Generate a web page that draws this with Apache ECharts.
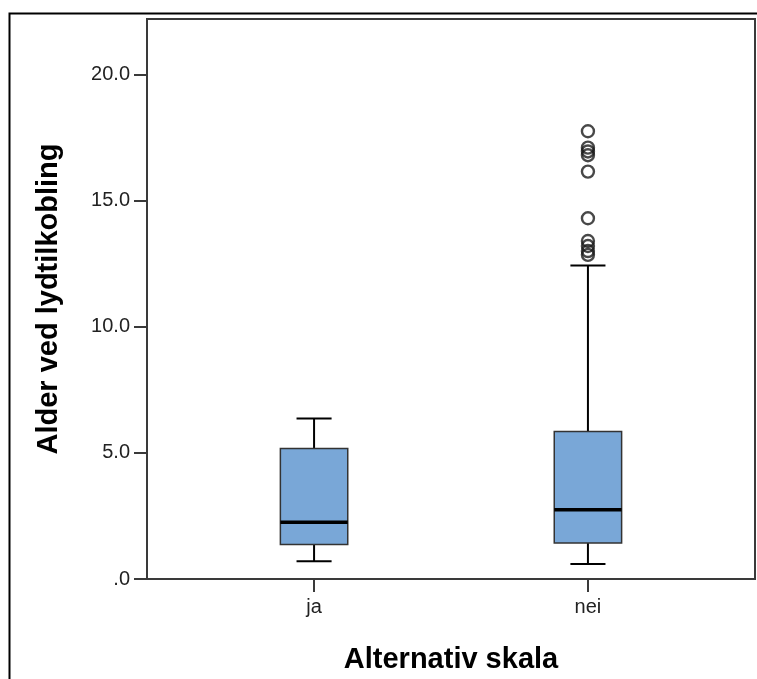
<!DOCTYPE html>
<html>
<head>
<meta charset="utf-8">
<script src="https://cdn.jsdelivr.net/npm/echarts@6/dist/echarts.min.js"></script>
<style>
  html, body { margin: 0; padding: 0; background: #fff; }
  #chart { width: 757px; height: 679px; }
</style>
</head>
<body>
<div id="chart"></div>
<script>
// grupper (x-akse)
const groups = ['ja', 'nei'];
// boksplott-statistikk per gruppe
const boxMin = [0.70, 0.59];
const boxQ1 = [1.37, 1.43];
const boxMedian = [2.25, 2.75];
const boxQ3 = [5.17, 5.85];
const boxMax = [6.36, 12.43];
// uteliggere for "nei"
const outliersNei = [17.75, 17.1, 16.95, 16.8, 16.15, 14.3, 13.4, 13.2, 13.0, 12.85];
// y-akse merker
const yTicks = [0, 5, 10, 15, 20];

const boxData = groups.map((g, i) => [i, boxMin[i], boxQ1[i], boxMedian[i], boxQ3[i], boxMax[i]]);
const outlierData = outliersNei.map(v => [1, v]);

const font = "'Liberation Sans', Arial, sans-serif";

// tegner boks, whiskers og median med aksenes egne skalaer
function renderBox(params, api) {
  const x = api.value(0);
  const lo = api.value(1), q1 = api.value(2), med = api.value(3), q3 = api.value(4), hi = api.value(5);
  const halfBox = 0.123, halfCap = 0.064;
  const tl = api.coord([x - halfBox, q3]);
  const br = api.coord([x + halfBox, q1]);
  const line = (a, b, w) => ({
    type: 'line',
    shape: { x1: a[0], y1: a[1], x2: b[0], y2: b[1] },
    style: { stroke: '#000', lineWidth: w }
  });
  return {
    type: 'group',
    children: [
      line(api.coord([x, q3]), api.coord([x, hi]), 2),
      line(api.coord([x, q1]), api.coord([x, lo]), 2),
      line(api.coord([x - halfCap, hi]), api.coord([x + halfCap, hi]), 2),
      line(api.coord([x - halfCap, lo]), api.coord([x + halfCap, lo]), 2),
      {
        type: 'rect',
        shape: { x: tl[0], y: tl[1], width: br[0] - tl[0], height: br[1] - tl[1] },
        style: { fill: '#79a7d7', stroke: '#333', lineWidth: 1.5 }
      },
      line(api.coord([x - halfBox, med]), api.coord([x + halfBox, med]), 3.5)
    ]
  };
}

const chart = echarts.init(document.getElementById('chart'));
chart.setOption({
  backgroundColor: '#fff',
  animation: false,
  graphic: [{
    type: 'rect',
    left: 7, top: 11,
    shape: { width: 800, height: 700 },
    style: { fill: 'none', stroke: '#000', lineWidth: 2 }
  }],
  grid: {
    left: 147, top: 19, right: 2, bottom: 100,
    outerBoundsMode: 'none',
    show: true, borderColor: '#3a3a3a', borderWidth: 2
  },
  xAxis: {
    type: 'value',
    min: -0.61, max: 1.61,
    name: 'Alternativ skala',
    nameLocation: 'middle',
    nameGap: 66,
    nameTextStyle: { fontFamily: font, fontWeight: 'bold', fontSize: 29, color: '#000' },
    splitLine: { show: false },
    axisLine: { onZero: false, lineStyle: { color: '#3a3a3a', width: 2 } },
    axisTick: { customValues: [0, 1], length: 13, lineStyle: { color: '#3a3a3a', width: 2 } },
    axisLabel: {
      customValues: [0, 1],
      formatter: v => groups[Math.round(v)],
      margin: 18, fontFamily: font, fontSize: 20, color: '#222'
    }
  },
  yAxis: {
    type: 'value',
    min: 0, max: 22.2,
    name: 'Alder ved lydtilkobling',
    nameLocation: 'middle',
    nameGap: 84,
    nameTextStyle: { fontFamily: font, fontWeight: 'bold', fontSize: 29, color: '#000' },
    splitLine: { show: false },
    axisLine: { show: true, onZero: false, lineStyle: { color: '#3a3a3a', width: 2 } },
    axisTick: { show: true, customValues: yTicks, length: 13, lineStyle: { color: '#3a3a3a', width: 2 } },
    axisLabel: {
      customValues: yTicks,
      formatter: v => (v === 0 ? '.0' : v.toFixed(1)),
      margin: 17, fontFamily: font, fontSize: 20, color: '#222'
    }
  },
  series: [
    {
      type: 'custom',
      renderItem: renderBox,
      encode: { x: 0, y: [1, 2, 3, 4, 5] },
      data: boxData,
      clip: false
    },
    {
      type: 'scatter',
      symbol: 'circle',
      symbolSize: 12,
      itemStyle: { color: 'rgba(255,255,255,0)', borderColor: '#1a1a1a', borderWidth: 2.4 },
      data: outlierData
    }
  ]
});
</script>
</body>
</html>
